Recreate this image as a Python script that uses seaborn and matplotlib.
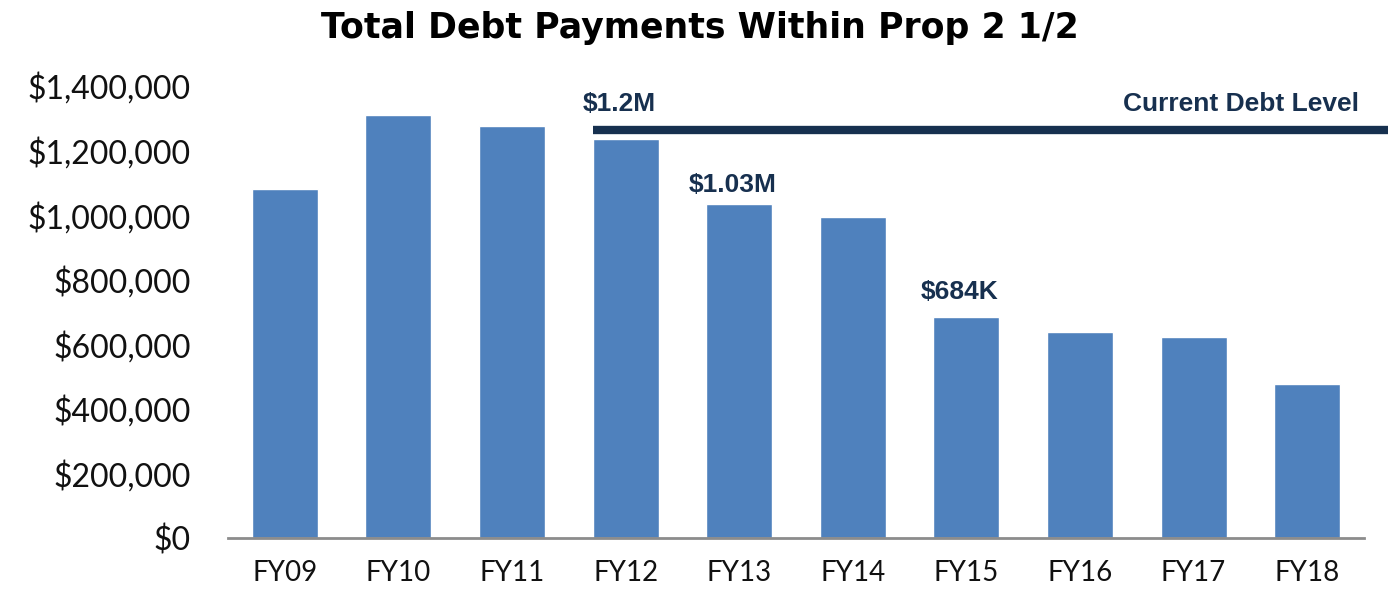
import matplotlib
matplotlib.use("Agg")
import matplotlib.pyplot as plt
import numpy as np
import pandas as pd
import seaborn as sns

# Values
fiscal_years = ["FY09", "FY10", "FY11", "FY12", "FY13", "FY14", "FY15", "FY16", "FY17", "FY18"]
debt_payments = [1081000, 1310000, 1276000, 1236000, 1034000, 994000, 684000, 638000, 622000, 477000]
current_debt_level = 1264000
y_ticks = [0, 200000, 400000, 600000, 800000, 1000000, 1200000, 1400000]

BAR_COLOR = "#4F81BD"
NAVY = "#17304F"

sns.set_style("white")
plt.rcParams["font.family"] = ["Lato", "DejaVu Sans"]

df = pd.DataFrame({"year": fiscal_years, "payment": debt_payments})

fig = plt.figure(figsize=(13.88, 5.89), dpi=100)
ax = fig.add_axes([0.1643, 0.0866, 0.8184, 0.7674])

sns.barplot(data=df, x="year", y="payment", color=BAR_COLOR, width=0.58,
            saturation=1, ax=ax)

ax.set_xlim(-0.5, len(fiscal_years) - 0.5)
ax.set_ylim(0, 1400000)
ax.set_yticks(y_ticks)
ax.set_yticklabels([f"${v:,.0f}" for v in y_ticks])
ax.set_xlabel("")
ax.set_ylabel("")
ax.tick_params(axis="y", labelsize=23, length=0, pad=27, labelcolor="#111111")
ax.tick_params(axis="x", labelsize=20, length=0, pad=16, labelcolor="#111111")

for side in ["left", "right", "top"]:
    ax.spines[side].set_visible(False)
ax.spines["bottom"].set_color("#8C8C8C")
ax.spines["bottom"].set_linewidth(2)

# Current debt level line, runs past the axes to the figure edge
fy12 = fiscal_years.index("FY12")
ax.hlines(current_debt_level, fy12 - 0.29, len(fiscal_years) - 0.29,
          color=NAVY, linewidth=6, clip_on=False, zorder=5)

label_font = dict(family=["Liberation Sans", "DejaVu Sans"], fontsize=19,
                  fontweight="bold", color=NAVY)
ax.text(fy12 - 0.38, 1344000, "$1.2M", ha="left", va="center", **label_font)
ax.text(9.46, 1344000, "Current Debt Level", ha="right", va="center", **label_font)
ax.text(fiscal_years.index("FY13") - 0.06, 1093000, "$1.03M", ha="center", va="center", **label_font)
ax.text(fiscal_years.index("FY15") - 0.06, 762000, "$684K", ha="center", va="center", **label_font)

fig.text(0.504, 0.952, "Total Debt Payments Within Prop 2 1/2", ha="center", va="center",
         fontsize=25, fontweight="bold", color="black", family=["DejaVu Sans"])

fig.savefig("out.png", dpi=100)
